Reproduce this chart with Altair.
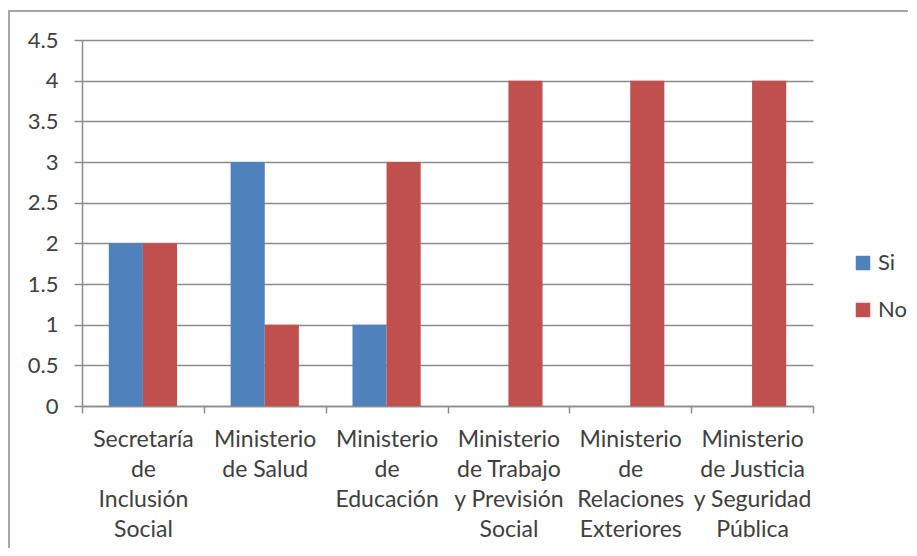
import altair as alt
import pandas as pd

categories = [
    "Secretaría\nde\nInclusión\nSocial",
    "Ministerio\nde Salud",
    "Ministerio\nde\nEducación",
    "Ministerio\nde Trabajo\ny Previsión\nSocial",
    "Ministerio\nde\nRelaciones\nExteriores",
    "Ministerio\nde Justicia\ny Seguridad\nPública",
]
series = ["Si", "No"]
si_values = [2, 3, 1, 0, 0, 0]
no_values = [2, 1, 3, 4, 4, 4]
y_ticks = [0, 0.5, 1, 1.5, 2, 2.5, 3, 3.5, 4, 4.5]
colors = ["#4F81BD", "#C0504D"]

rows = []
for c, s, n in zip(categories, si_values, no_values):
    rows.append({"cat": c, "serie": "Si", "valor": s})
    rows.append({"cat": c, "serie": "No", "valor": n})
df = pd.DataFrame(rows)

FONT = "Lato"
GRAY = "#8c8c8c"
TXT = "#404040"

bars = alt.Chart(df).mark_bar().encode(
    x=alt.X("cat:N", sort=categories,
            scale=alt.Scale(paddingInner=0, paddingOuter=0),
            axis=alt.Axis(title=None, labelAngle=0, tickBand="extent",
                          labelExpr="split(datum.label, '\\n')",
                          labelLineHeight=30, labelFontSize=23, labelFont=FONT,
                          labelColor=TXT, labelPadding=15, tickSize=7,
                          tickColor=GRAY, domainColor=GRAY, domainWidth=1.5,
                          tickWidth=1.5, labelLimit=0, labelOverlap=False)),
    xOffset=alt.XOffset("serie:N", sort=series,
                        scale=alt.Scale(paddingOuter=0.786, paddingInner=0)),
    y=alt.Y("valor:Q", scale=alt.Scale(domain=[0, 4.5], nice=False),
            axis=alt.Axis(title=None, values=y_ticks, format="~g",
                          grid=True, gridColor=GRAY, gridWidth=1.5,
                          tickSize=8, tickColor=GRAY, tickWidth=1.5,
                          domainColor=GRAY, domainWidth=1.5,
                          labelPadding=16, labelFontSize=22, labelFont=FONT,
                          labelColor=TXT)),
    color=alt.Color("serie:N", sort=series,
                    scale=alt.Scale(domain=series, range=colors),
                    legend=alt.Legend(title=None, orient="none",
                                      legendX=770, legendY=212,
                                      symbolType="square", symbolSize=210,
                                      symbolStrokeWidth=0, symbolOpacity=1,
                                      labelFontSize=22, labelFont=FONT,
                                      labelColor=TXT, rowPadding=25,
                                      labelOffset=4, padding=0)),
)

frame = alt.Chart(alt.Data(values=[{"a": 1}])).mark_rect(
    fillOpacity=0, stroke="#a6a6a6", strokeWidth=2
).encode(
    x=alt.value(-73), x2=alt.value(860),
    y=alt.value(-29), y2=alt.value(530),
)

chart = alt.layer(frame, bars).properties(
    width=731, height=366,
    autosize=alt.AutoSizeParams(type="none"),
    padding={"left": 74, "top": 32, "right": 95, "bottom": 142},
).configure_view(stroke=None)

chart.save("out.html", embed_options={"renderer": "svg", "actions": False})
